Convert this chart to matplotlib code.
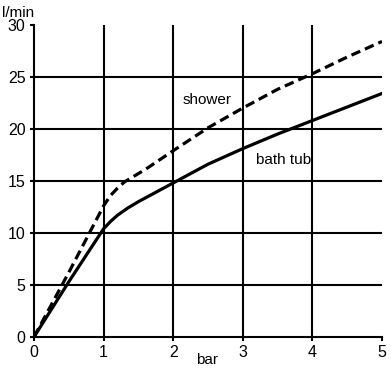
import matplotlib.pyplot as plt
import numpy as np

plt.rcParams['font.family'] = ['Liberation Sans', 'DejaVu Sans']

# pressure (bar) and flow (l/min)
bath_x = [0, 0.5, 1.0, 1.1, 1.2, 1.35, 1.5, 1.75, 2.0, 2.5, 3.0, 3.5, 4.0, 4.5, 5.0]
bath_y = [0, 5.3, 10.4, 11.1, 11.7, 12.4, 13.0, 13.9, 14.8, 16.6, 18.1, 19.5, 20.8, 22.1, 23.4]
shower_x = [0, 0.5, 1.0, 1.1, 1.2, 1.3, 1.45, 1.6, 2.0, 2.5, 3.0, 3.5, 4.0, 4.5, 5.0]
shower_y = [0, 6.2, 12.6, 13.6, 14.3, 14.9, 15.5, 16.1, 17.9, 20.1, 22.0, 23.8, 25.3, 26.9, 28.4]

xticks = [0, 1, 2, 3, 4, 5]
yticks = [0, 5, 10, 15, 20, 25, 30]
xgrid = [1, 2, 3, 4]
ygrid = [5, 10, 15, 20, 25]

fig = plt.figure(figsize=(3.91, 3.76), dpi=100)
ax = fig.add_axes([0.087, 0.104, 0.890, 0.830])

ax.set_xlim(0, 5)
ax.set_ylim(0, 30)

# grid by hand: no line at x=5 and y=30
ax.vlines(xgrid, 0, 30, colors='black', linewidth=1.5, zorder=1)
ax.hlines(ygrid, 0, 5, colors='black', linewidth=1.5, zorder=1)

ax.plot(bath_x, bath_y, color='black', linewidth=2.3, zorder=3)
ax.plot(shower_x, shower_y, color='black', linewidth=2.3, linestyle=(0, (3, 1.6)), zorder=3)

ax.text(2.48, 22.8, 'shower', fontsize=11, ha='center', va='center')
ax.text(3.58, 17.0, 'bath tub', fontsize=11, ha='center', va='center')

for s in ['top', 'right']:
    ax.spines[s].set_visible(False)
for s in ['left', 'bottom']:
    ax.spines[s].set_linewidth(1.5)

ax.set_xticks(xticks)
ax.set_yticks(yticks)
ax.tick_params(direction='out', length=3, width=1.5, labelsize=11.5, pad=3)

fig.text(0.005, 0.965, 'l/min', fontsize=11, ha='left', va='center')
fig.text(0.53, 0.042, 'bar', fontsize=11, ha='center', va='center')

fig.savefig('out.png', dpi=100)
